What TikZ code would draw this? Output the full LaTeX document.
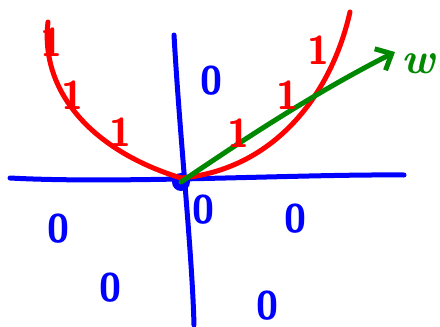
\documentclass[tikz,border=0pt]{standalone}
\usetikzlibrary{positioning, arrows.meta}
\definecolor{penblue}{RGB}{0,0,255}
\definecolor{penred}{RGB}{255,0,0}
\definecolor{pengreen}{RGB}{0,136,0}

\begin{document}
\begin{tikzpicture}[x=1pt, y=-1pt]
  \tikzset{
    stroke/.style={
      line width=5pt,
      line cap=round,
      line join=round
    },
    zero/.style={
      text=penblue,
      font=\fontsize{40}{42}\selectfont\sffamily\bfseries,
      inner sep=0pt
    },
    one/.style={
      text=penred,
      font=\fontsize{40}{42}\selectfont\sffamily\bfseries,
      inner sep=0pt
    },
    wlabel/.style={
      text=pengreen,
      font=\fontsize{44}{46}\selectfont\itshape\bfseries,
      inner sep=0pt
    }
  }
  \useasboundingbox (0,0) rectangle (440,327);

  % Axes
  \draw[stroke, penblue] (10,178) .. controls (120,184) and (300,174) .. (404,175);
  \draw[stroke, penblue] (174,35) .. controls (180,140) and (192,250) .. (194,325);
  \node[circle, fill=penblue, inner sep=0pt, minimum size=18pt] at (181,182) (origin) {};

  % Red parabola
  \draw[stroke, penred] (48,22) .. controls (40,90) and (90,150) .. (181,178)
    .. controls (270,170) and (330,100) .. (350,12);

  % Weight vector
  \coordinate (tip) at (395,52);
  \draw[stroke, pengreen, -{Straight Barb[length=13pt, width=24pt]}]
    (origin.center) .. controls (250,135) and (320,90) .. (tip);
  \node[wlabel] at (418,64) (w) {w};

  % Labels 1
  \node[one] at (52,42) (one1) {1};
  \node[one] at (72,95) (one2) {1};
  \node[one] at (120,132) (one3) {1};
  \node[one] at (238,133) (one4) {1};
  \node[one] at (287,95) (one5) {1};
  \node[one] at (318,50) (one6) {1};

  % Labels 0
  \node[zero] at (211,81) (zero1) {0};
  \node[zero] at (203,210) (zero2) {0};
  \node[zero] at (295,219) (zero3) {0};
  \node[zero] at (59,229) (zero4) {0};
  \node[zero] at (110,288) (zero5) {0};
  \node[zero] at (267,306) (zero6) {0};
\end{tikzpicture}
\end{document}
